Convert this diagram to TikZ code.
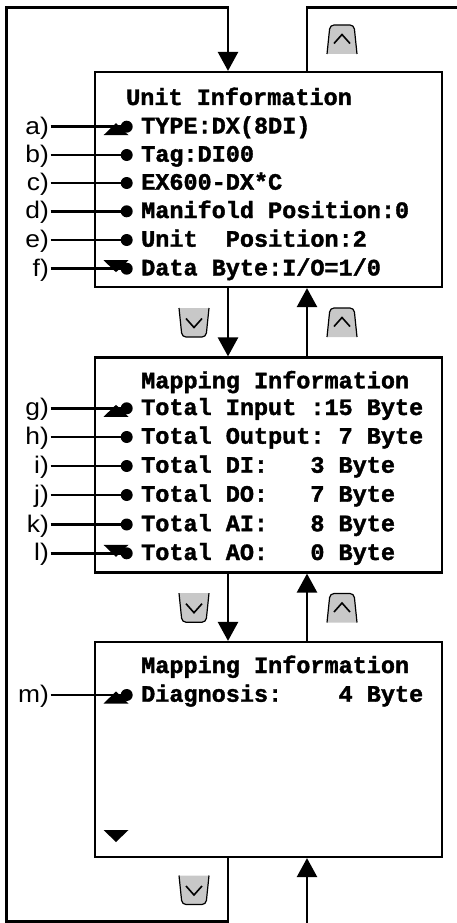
\documentclass[tikz,border=0pt]{standalone}
\usepackage{fontspec}
\setmainfont{Liberation Sans}[FakeStretch=1.1]
\newfontfamily\lcdfont{Liberation Mono}[BoldFeatures={FakeBold=1.6}]
\usepackage{tikz}
\usetikzlibrary{arrows.meta}
\definecolor{keygray}{RGB}{200,200,200}

\begin{document}
\begin{tikzpicture}[x=1pt,y=-1pt,
    screen/.style={draw, line width=2.2pt, minimum width=347pt, minimum height=215pt, inner sep=0pt},
    flow/.style={line width=2.6pt},
    arr/.style={flow, -{Triangle[width=20pt,length=19pt]}},
    lcd/.style={font=\lcdfont\bfseries\frenchspacing\fontsize{23.5}{28}\selectfont, inner sep=0pt, anchor=base west},
    tag/.style={font=\fontsize{24}{28}\selectfont, inner sep=1.5pt, anchor=base east},
    bullet/.style={circle, fill=black, inner sep=0pt, minimum size=12pt},
    upkey/.pic={
        \fill[keygray] (-15,14.5) [rounded corners=4pt] -- (-12,-14.5) -- (12,-14.5) [sharp corners] -- (15,14.5) -- cycle;
        \draw[line width=1.2pt] (-15,14.5) [rounded corners=4pt] -- (-12,-14.5) -- (12,-14.5) [sharp corners] -- (15,14.5);
        \draw[line width=1.6pt] (-8,4) -- (0,-5) -- (8,4);
    },
    dnkey/.pic={
        \fill[keygray] (-15,-14.5) [rounded corners=4pt] -- (-12,14.5) -- (12,14.5) [sharp corners] -- (15,-14.5) -- cycle;
        \draw[line width=1.2pt] (-15,-14.5) [rounded corners=4pt] -- (-12,14.5) -- (12,14.5) [sharp corners] -- (15,-14.5);
        \draw[line width=1.6pt] (-8,-4) -- (0,5) -- (8,-4);
    },
    scrollup/.pic={\fill (-12.5,6) -- (0,-6) -- (12.5,6) -- cycle;},
    scrolldn/.pic={\fill (-12.5,-6) -- (0,6) -- (12.5,-6) -- cycle;}]
    \useasboundingbox (0,0) rectangle (456,923);

    \node[screen] at (268.5,179.5) (unit) {};
    \node[screen] at (268.5,465) (mapio) {};
    \node[screen] at (268.5,749.5) (diag) {};

    \node[lcd] at (126,105) (tunit) {Unit Information};
    \node[lcd] at (141,388.3) (tmapio) {Mapping Information};
    \node[lcd] at (141,673) (tdiag) {Mapping Information};

    \pic at (116,129.2) {scrollup};
    \pic at (116,266.2) {scrolldn};
    \pic at (116,410.8) {scrollup};
    \pic at (116,550.8) {scrolldn};
    \pic at (116,697.5) {scrollup};
    \pic at (116,836) {scrolldn};

    \foreach \lb/\tx/\yy in {a/{TYPE:DX(8DI)}/126.7, b/{Tag:DI00}/155, c/{EX600-DX*C}/183,
        d/{Manifold Position:0}/211.3, e/{Unit~~Position:2}/240, f/{Data Byte:I/O=1/0}/268.7,
        g/{Total Input :15 Byte}/408.3, h/{Total Output: 7 Byte}/437, i/{Total DI:~~~3 Byte}/466,
        j/{Total DO:~~~7 Byte}/495, k/{Total AI:~~~8 Byte}/524.5, l/{Total AO:~~~0 Byte}/553.3,
        m/{Diagnosis:~~~~4 Byte}/695}
    {
        \node[bullet] at (126.7,\yy) (d\lb) {};
        \node[lcd] at (141,\yy+6.7) (r\lb) {\tx};
        \node[tag] at (50.5,\yy+7.5) (l\lb) {\lb)};
        \draw[flow] (l\lb.east |- d\lb) -- (d\lb);
    }

    \pic at (342,39.5) {upkey};
    \pic at (194,322.5) {dnkey};
    \pic at (342,322.5) {upkey};
    \pic at (194,607.7) {dnkey};
    \pic at (342,608) {upkey};
    \pic at (194,890) {dnkey};

    \coordinate (dn) at (228,0);
    \coordinate (up) at (307,0);
    \coordinate (cornertl) at (6.7,7.3);
    \coordinate (cornerbl) at (6.7,921.5);
    \coordinate (cornertr) at (458,7.3);
    \coordinate (feed) at (307,926);

    \draw[arr] (diag.south -| dn) |- (cornerbl) -- (cornertl) -| (unit.north -| dn);
    \draw[flow] (unit.north -| up) |- (cornertr);
    \draw[arr] (unit.south -| dn) -- (mapio.north -| dn);
    \draw[arr] (mapio.north -| up) -- (unit.south -| up);
    \draw[arr] (mapio.south -| dn) -- (diag.north -| dn);
    \draw[arr] (diag.north -| up) -- (mapio.south -| up);
    \draw[arr] (feed) -- (diag.south -| up);
\end{tikzpicture}
\end{document}
